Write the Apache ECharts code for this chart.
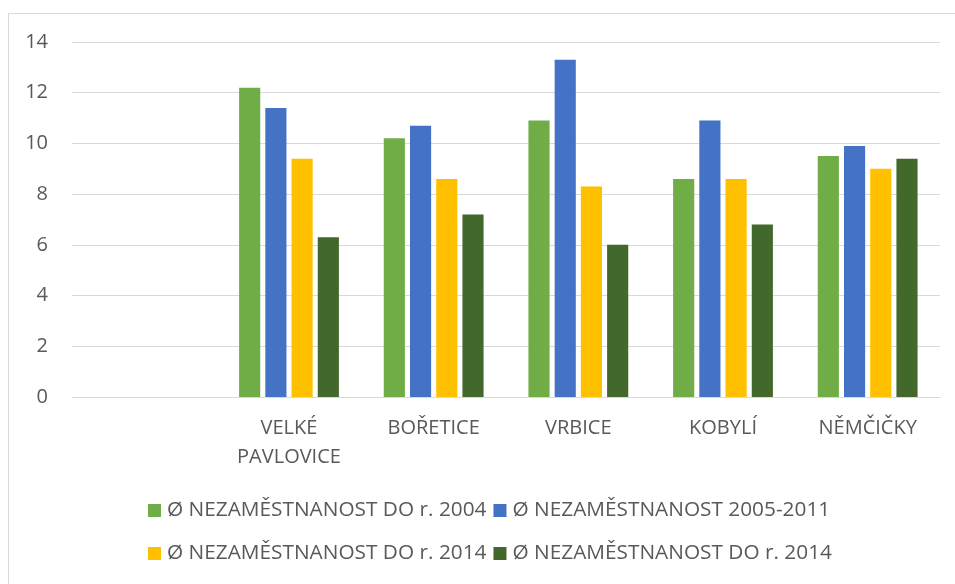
<!DOCTYPE html>
<html>
<head>
<meta charset="utf-8">
<script src="https://cdn.jsdelivr.net/npm/echarts@6/dist/echarts.min.js"></script>
<style>
  html, body { margin: 0; padding: 0; background: #fff; }
  #frame { position: absolute; left: 8px; top: 13px; width: 960px; height: 580px; border-top: 1px solid #d9d9d9; border-left: 1px solid #d9d9d9; }
  #chart { position: absolute; left: 0; top: 0; width: 955px; height: 584px; }
</style>
</head>
<body>
<div id="frame"></div>
<div id="chart"></div>
<script>
// kategorie (první je prázdná jako v originále)
const categories = ['', 'VELKÉ\nPAVLOVICE', 'BOŘETICE', 'VRBICE', 'KOBYLÍ', 'NĚMČIČKY']
const seriesNames = [
  'Ø NEZAMĚSTNANOST DO r. 2004',
  'Ø NEZAMĚSTNANOST 2005-2011',
  'Ø NEZAMĚSTNANOST DO r. 2014',
  'Ø NEZAMĚSTNANOST DO r. 2014\u200B'
]
const do2004 = [null, 12.2, 10.2, 10.9, 8.6, 9.5]
const r2005_2011 = [null, 11.4, 10.7, 13.3, 10.9, 9.9]
const do2014a = [null, 9.4, 8.6, 8.3, 8.6, 9.0]
const do2014b = [null, 6.3, 7.2, 6.0, 6.8, 9.4]
const colors = ['#70ad47', '#4472c4', '#ffc000', '#43682b']

const chart = echarts.init(document.getElementById('chart'))
const values = [do2004, r2005_2011, do2014a, do2014b]
const legendBase = {
  left: 148,
  padding: 0,
  itemWidth: 13,
  itemHeight: 13,
  itemGap: 7,
  icon: 'rect',
  textStyle: { fontFamily: 'Open Sans', fontSize: 20.8, color: '#595959', padding: [0, 0, 0, 1] }
}
const option = {
  animation: false,
  textStyle: { fontFamily: 'Open Sans' },
  grid: { left: 72, right: 15, top: 42, bottom: 187 },
  legend: [
    Object.assign({ data: seriesNames.slice(0, 2), top: 500 }, legendBase),
    Object.assign({ data: seriesNames.slice(2, 4), top: 543 }, legendBase)
  ],
  xAxis: {
    type: 'category',
    data: categories,
    axisLine: { lineStyle: { color: '#d9d9d9', width: 1 } },
    axisTick: { show: false },
    axisLabel: { color: '#595959', fontSize: 20, margin: 17, lineHeight: 29, interval: 0 }
  },
  yAxis: {
    type: 'value',
    min: 0,
    max: 14,
    interval: 2,
    axisLine: { show: false },
    axisTick: { show: false },
    axisLabel: { color: '#595959', fontSize: 20, margin: 24 },
    splitLine: { lineStyle: { color: '#d9d9d9', width: 1 } }
  },
  series: []
}
for (let i = 0; i < values.length; i++) {
  option.series.push({
    name: seriesNames[i],
    type: 'bar',
    data: values[i],
    barGap: '24%',
    barCategoryGap: '31%',
    itemStyle: { color: colors[i] }
  })
}
chart.setOption(option)
</script>
</body>
</html>
